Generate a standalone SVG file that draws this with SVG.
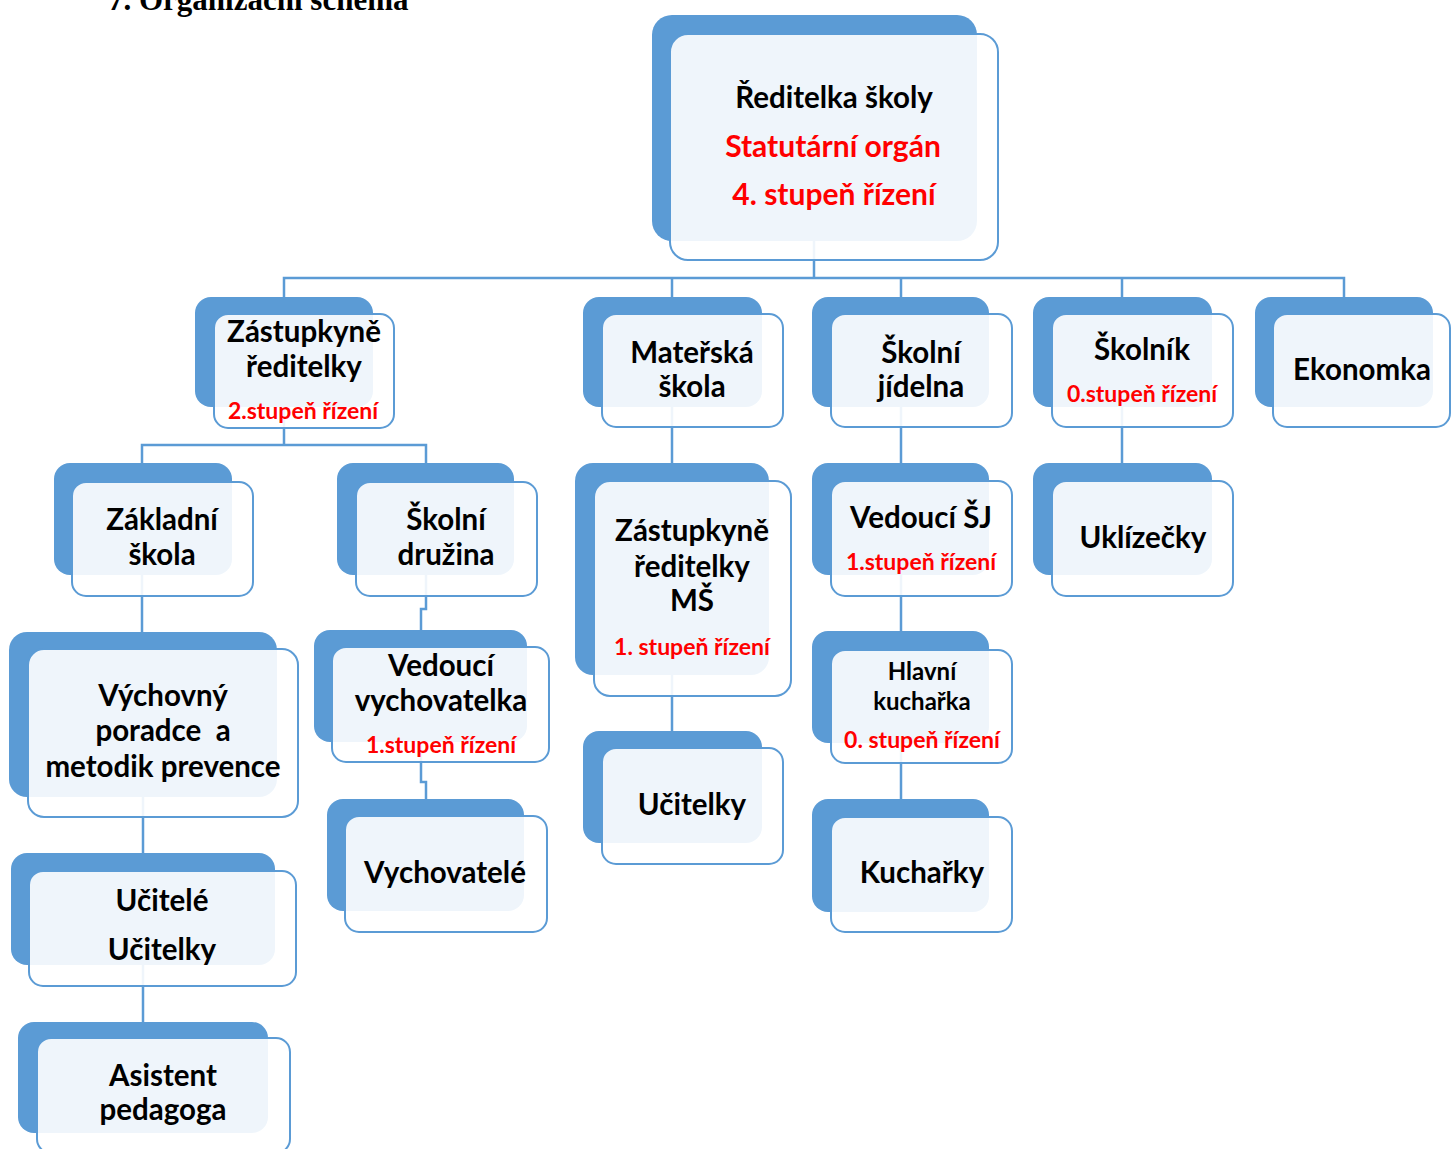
<svg xmlns="http://www.w3.org/2000/svg" width="1451" height="1149" viewBox="0 0 1451 1149">
<style>
.bk{fill:#5B9BD5}
.fr{fill:#FFFFFF;fill-opacity:0.9;stroke:#5B9BD5;stroke-width:2}
.c{fill:none;stroke:#5B9BD5;stroke-width:2.5}
text{font-family:Lato,"Liberation Sans",sans-serif;font-weight:bold;text-anchor:middle}
.t{font-size:29.5px;fill:#000000}
.s{font-size:24px;fill:#000000}
.r{font-size:23px;fill:#FF0000}
.rb{font-size:30px;fill:#FF0000}
.title{font-family:"Liberation Serif",serif;font-size:31px;fill:#000000;text-anchor:start}
</style>
<rect width="1451" height="1149" fill="#FFFFFF"/>
<text class="title" x="108" y="10">7. Organizační schéma</text>
<g id="connectors">
<path class="c" d="M814,241 V278"/>
<path class="c" d="M284,297 V278 H1344 V297"/>
<path class="c" d="M672,278 V297 M901,278 V297 M1122,278 V297"/>
<path class="c" d="M284,407 V445 M142,463 V445 H426 V463"/>
<path class="c" d="M142,575 V632 M143,797 V853 M143,965 V1022"/>
<path class="c" d="M426,575 V609 H421 V630 M421,742 V782 H426 V799"/>
<path class="c" d="M672,407 V463 M672,675 V731"/>
<path class="c" d="M901,407 V463 M901,575 V631 M901,743 V799"/>
<path class="c" d="M1122,407 V463"/>
</g>
<g id="n-reditelka">
<rect class="bk" x="652" y="15" width="325" height="226" rx="20"/>
<rect class="fr" x="670" y="34" width="328" height="226" rx="18"/>
<text class="t" x="834" y="108">Ředitelka školy</text>
<text class="rb" x="833" y="157">Statutární orgán</text>
<text class="rb" x="834" y="205">4. stupeň řízení</text>
</g>
<g id="n-zastupkyne">
<rect class="bk" x="195" y="297" width="178" height="110" rx="16"/>
<rect class="fr" x="214" y="314" width="180" height="114" rx="14"/>
<text class="t" x="304" y="342">Zástupkyně</text>
<text class="t" x="304" y="377">ředitelky</text>
<text class="r" x="303" y="419">2.stupeň řízení</text>
</g>
<g id="n-materska">
<rect class="bk" x="583" y="297" width="179" height="110" rx="16"/>
<rect class="fr" x="602" y="314" width="181" height="113" rx="14"/>
<text class="t" x="692" y="363">Mateřská</text>
<text class="t" x="692" y="397">škola</text>
</g>
<g id="n-jidelna">
<rect class="bk" x="812" y="297" width="177" height="110" rx="16"/>
<rect class="fr" x="831" y="314" width="181" height="113" rx="14"/>
<text class="t" x="921" y="363">Školní</text>
<text class="t" x="921" y="397">jídelna</text>
</g>
<g id="n-skolnik">
<rect class="bk" x="1033" y="297" width="179" height="110" rx="16"/>
<rect class="fr" x="1052" y="314" width="181" height="113" rx="14"/>
<text class="t" x="1142" y="360">Školník</text>
<text class="r" x="1142" y="402">0.stupeň řízení</text>
</g>
<g id="n-ekonomka">
<rect class="bk" x="1255" y="297" width="178" height="110" rx="16"/>
<rect class="fr" x="1273" y="314" width="177" height="113" rx="14"/>
<text class="t" x="1362" y="380">Ekonomka</text>
</g>
<g id="n-zakladni">
<rect class="bk" x="54" y="463" width="178" height="112" rx="16"/>
<rect class="fr" x="72" y="482" width="181" height="114" rx="14"/>
<text class="t" x="162" y="530">Základní</text>
<text class="t" x="162" y="565">škola</text>
</g>
<g id="n-druzina">
<rect class="bk" x="337" y="463" width="177" height="112" rx="16"/>
<rect class="fr" x="356" y="482" width="181" height="114" rx="14"/>
<text class="t" x="446" y="530">Školní</text>
<text class="t" x="446" y="565">družina</text>
</g>
<g id="n-zastupkyne-ms">
<rect class="bk" x="575" y="463" width="194" height="212" rx="18"/>
<rect class="fr" x="594" y="481" width="197" height="215" rx="16"/>
<text class="t" x="692" y="541">Zástupkyně</text>
<text class="t" x="692" y="577">ředitelky</text>
<text class="t" x="692" y="611">MŠ</text>
<text class="r" x="692" y="655">1. stupeň řízení</text>
</g>
<g id="n-vedouci-sj">
<rect class="bk" x="812" y="463" width="177" height="112" rx="16"/>
<rect class="fr" x="831" y="481" width="181" height="115" rx="14"/>
<text class="t" x="921" y="528">Vedoucí ŠJ</text>
<text class="r" x="921" y="570">1.stupeň řízení</text>
</g>
<g id="n-uklizecky">
<rect class="bk" x="1033" y="463" width="179" height="112" rx="16"/>
<rect class="fr" x="1052" y="481" width="181" height="115" rx="14"/>
<text class="t" x="1143" y="548">Uklízečky</text>
</g>
<g id="n-vychovny">
<rect class="bk" x="9" y="632" width="268" height="165" rx="18"/>
<rect class="fr" x="28" y="649" width="270" height="168" rx="16"/>
<text class="t" x="163" y="706">Výchovný</text>
<text class="t" x="163" y="741" xml:space="preserve">poradce  a</text>
<text class="t" x="163" y="777">metodik prevence</text>
</g>
<g id="n-vedouci-vych">
<rect class="bk" x="314" y="630" width="213" height="112" rx="16"/>
<rect class="fr" x="332" y="647" width="217" height="115" rx="14"/>
<text class="t" x="441" y="676">Vedoucí</text>
<text class="t" x="441" y="711">vychovatelka</text>
<text class="r" x="441" y="753">1.stupeň řízení</text>
</g>
<g id="n-ucitelky-ms">
<rect class="bk" x="583" y="731" width="179" height="112" rx="16"/>
<rect class="fr" x="602" y="748" width="181" height="116" rx="14"/>
<text class="t" x="692" y="815">Učitelky</text>
</g>
<g id="n-hlavni-kucharka">
<rect class="bk" x="812" y="631" width="177" height="112" rx="16"/>
<rect class="fr" x="831" y="650" width="181" height="113" rx="14"/>
<text class="s" x="922" y="680">Hlavní</text>
<text class="s" x="922" y="710">kuchařka</text>
<text class="r" x="922" y="748">0. stupeň řízení</text>
</g>
<g id="n-ucitele">
<rect class="bk" x="11" y="853" width="264" height="112" rx="16"/>
<rect class="fr" x="29" y="871" width="267" height="115" rx="14"/>
<text class="t" x="162" y="911">Učitelé</text>
<text class="t" x="162" y="960">Učitelky</text>
</g>
<g id="n-vychovatele">
<rect class="bk" x="327" y="799" width="197" height="112" rx="16"/>
<rect class="fr" x="345" y="816" width="202" height="116" rx="14"/>
<text class="t" x="445" y="883">Vychovatelé</text>
</g>
<g id="n-kucharky">
<rect class="bk" x="812" y="799" width="177" height="113" rx="16"/>
<rect class="fr" x="831" y="817" width="181" height="115" rx="14"/>
<text class="t" x="922" y="883">Kuchařky</text>
</g>
<g id="n-asistent">
<rect class="bk" x="18" y="1022" width="250" height="111" rx="16"/>
<rect class="fr" x="37" y="1038" width="253" height="115" rx="14"/>
<text class="t" x="163" y="1086">Asistent</text>
<text class="t" x="163" y="1120">pedagoga</text>
</g>
</svg>
